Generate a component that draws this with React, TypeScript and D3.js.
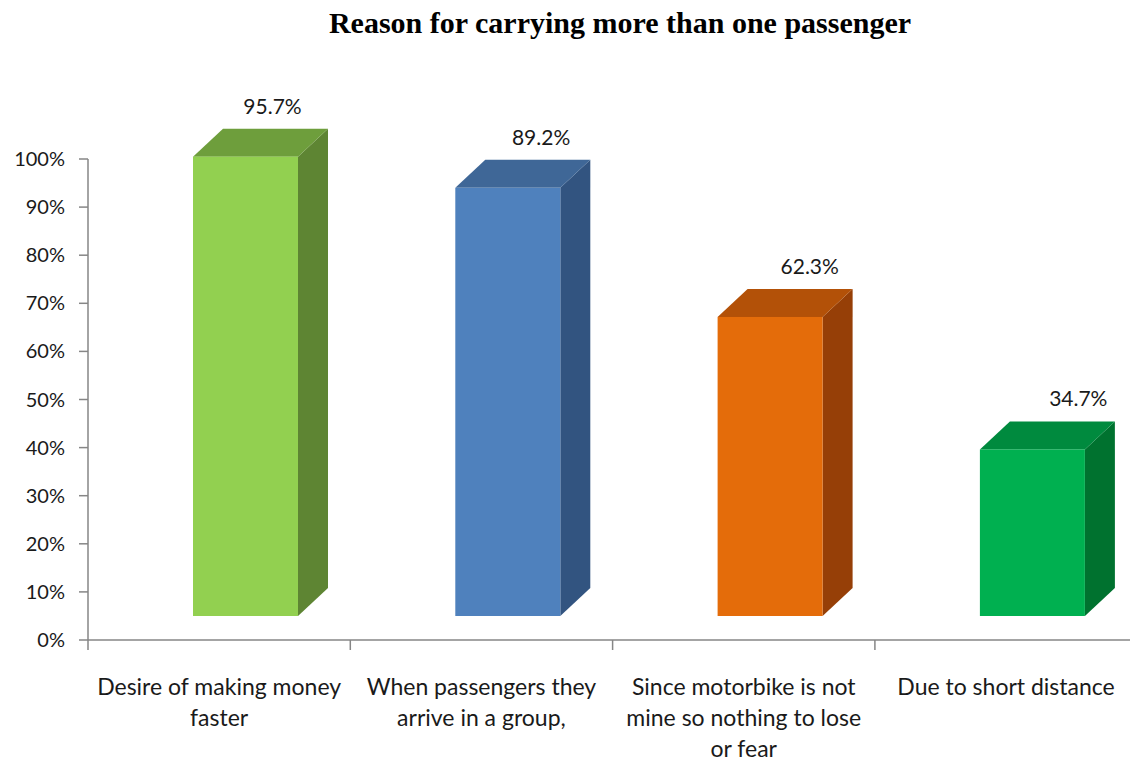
import React from "react";
import * as d3 from "d3";

const title = "Reason for carrying more than one passenger";
const categories = [
  ["Desire of making money", "faster"],
  ["When passengers they", "arrive in a group,"],
  ["Since motorbike is not", "mine so nothing to lose", "or fear"],
  ["Due to short distance"],
];
const values = [95.7, 89.2, 62.3, 34.7];
const valueLabels = ["95.7%", "89.2%", "62.3%", "34.7%"];
const yTicks = [0, 10, 20, 30, 40, 50, 60, 70, 80, 90, 100];
const frontColors = ["#92D050", "#4F81BD", "#E46C0A", "#00B050"];
const sideColors = ["#5E8533", "#325480", "#963F07", "#00722F"];
const topColors = ["#6E9E3C", "#3F6797", "#B35108", "#008A3E"];

const W = 1130, H = 764;
const axisX = 88, axisY0 = 640, axisY100 = 159;
const bandW = 262.3;
const depthX = 30, depthY = 28;
const font = "Lato, 'Open Sans', sans-serif";

export default function App() {
  const yAxis = d3.scaleLinear().domain([0, 100]).range([axisY0, axisY100]);
  const yFront = d3.scaleLinear().domain([0, 100]).range([616, 136]);
  const x = d3.scaleBand<number>().domain(d3.range(5)).range([axisX, axisX + bandW * 5]).paddingInner(0).paddingOuter(0);
  const barOff = 105, barW = 105;

  return (
    <svg width={W} height={H} style={{ position: "absolute", left: 0, top: 0, background: "#fff" }}>
      <text x={620} y={33} textAnchor="middle" fontFamily="'Liberation Serif', 'Times New Roman', serif" fontWeight="bold" fontSize={30}>{title}</text>
      {/* y axis */}
      <line x1={axisX} x2={axisX} y1={yAxis(100)} y2={yAxis(0)} stroke="#868686" strokeWidth={1.5} />
      {yTicks.map((t) => (
        <g key={t}>
          <line x1={axisX - 9} x2={axisX} y1={yAxis(t)} y2={yAxis(t)} stroke="#868686" strokeWidth={1.5} />
          <text x={65} y={yAxis(t)} dy="0.35em" textAnchor="end" fontFamily={font} fontSize={20} fill="#1a1a1a">{t}%</text>
        </g>
      ))}
      {/* x axis */}
      <line x1={axisX} x2={W} y1={axisY0} y2={axisY0} stroke="#868686" strokeWidth={1.5} />
      {d3.range(5).map((i) => (
        <line key={i} x1={x(i)!} x2={x(i)!} y1={axisY0} y2={axisY0 + 10} stroke="#868686" strokeWidth={1.5} />
      ))}
      {values.map((v, i) => {
        const x0 = x(i)! + barOff;
        const x1 = x0 + barW;
        const yt = yFront(v);
        const yb = yFront(0);
        const cx = (x0 + x1) / 2;
        const side = `M${x1},${yt} L${x1 + depthX},${yt - depthY} L${x1 + depthX},${yb - depthY} L${x1},${yb} Z`;
        const top = `M${x0},${yt} L${x0 + depthX},${yt - depthY} L${x1 + depthX},${yt - depthY} L${x1},${yt} Z`;
        return (
          <g key={i}>
            <path d={side} fill={sideColors[i]} />
            <path d={top} fill={topColors[i]} />
            <rect x={x0} y={yt} width={barW} height={yb - yt} fill={frontColors[i]} />
            <text x={cx + 27 + (cx - 245) * 0.024} y={yt - depthY - 15} textAnchor="middle" fontFamily={font} fontSize={21} fill="#1a1a1a">{valueLabels[i]}</text>
          </g>
        );
      })}
      {categories.map((lines, i) => (
        <text key={i} textAnchor="middle" fontFamily={font} fontSize={23} fill="#1a1a1a">
          {lines.map((l, j) => (
            <tspan key={j} x={x(i)! + bandW / 2} y={695 + j * 31}>{l}</tspan>
          ))}
        </text>
      ))}
    </svg>
  );
}
